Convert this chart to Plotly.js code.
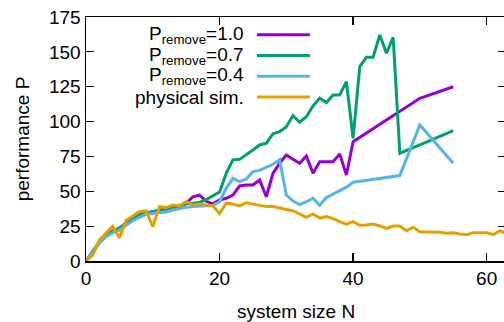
<!DOCTYPE html>
<html>
<head>
<meta charset="utf-8">
<script src="https://cdn.plot.ly/plotly-3.0.1.min.js"></script>
<style>
html,body{margin:0;padding:0;overflow:hidden;background:#fff;width:504px;height:322px;}
#chart{width:510px;height:322px;}
</style>
</head>
<body>
<div id="chart"></div>
<script>
// ---- data ----
const seriesNames = ["P<sub>remove</sub>=1.0", "P<sub>remove</sub>=0.7", "P<sub>remove</sub>=0.4", "physical sim."];
const seriesColors = ["#9400D3", "#009E73", "#56B4E9", "#E69F00"];

const nP10 = [0,1,2,3,4,5,6,7,8,9,10,11,12,13,14,15,16,17,18,19,20,21,22,23,24,25,26,27,28,29,30,31,32,33,34,35,36,37,38,39,40,47,50,55];
const pP10 = [0,7,13.5,18.5,21.5,23.5,27,30,33,34.5,35.4,36.2,37,38,39,41.4,46,47.3,42.8,41,43.8,45,47.3,53.8,54.5,54.5,58.1,46.1,62.9,70.1,76,73,70.1,75.3,62.9,71.2,71.2,71.2,76.8,61.7,85.6,107.4,116.7,125];

const nP07 = [0,1,2,3,4,5,6,7,8,9,10,11,12,13,14,15,16,17,18,19,20,21,22,23,24,25,26,27,28,29,30,31,32,33,34,35,36,37,38,39,40,41,42,43,44,45,46,47,50,55];
const pP07 = [0,7,13.5,18.5,21.5,23.5,27.5,30.5,33.5,34.5,35.4,36.2,37.1,38.3,39.5,41,41.4,42,44,46.5,49.5,62.9,72.5,72.9,76,79.6,83.2,84.4,91.3,92.8,96.3,104.3,99.5,103.5,111.2,116.7,113.6,119.1,119.1,128.6,88,139.4,146.1,146.1,162.1,149,160.4,77.3,83.3,93.5];

const nP04 = [0,1,2,3,4,5,6,7,8,9,10,11,12,13,14,15,16,17,18,19,20,21,22,23,24,25,26,27,28,29,30,31,32,33,34,35,36,37,38,39,40,47,50,55];
const pP04 = [0,6.7,12.7,17.5,20.3,22.2,25.8,28.9,31.3,33.5,34.2,34.7,35.2,36.6,37.8,38.5,39,39.5,39.8,40,42.5,52.1,59.3,56.9,58.8,64.1,65,67,69.4,72.7,47.3,43,40.5,42.5,45,40,45.5,48,50.5,53,56.5,61.3,97.6,70.1];

const nPhys = [0,1,2,3,4,5,6,7,8,9,10,11,12,13,14,15,16,17,18,19,20,21,22,23,24,25,26,27,28,29,30,31,32,33,34,35,36,37,38,39,40,41,42,43,44,45,46,47,48,49,50,51,52,53,54,55,56,57,58,59,60,61,62,63];
const pPhys = [0,4.3,15,19.8,25,16.7,29,32.3,35.4,36,24.6,39,38.3,40.2,39.7,42.6,40.2,40.9,40.2,39.5,34,41.5,40.9,39.5,41.8,40.9,40.2,39,39,38,37,35.9,33.7,31.3,33.7,30.8,31.8,30.4,28.2,26.5,28.2,25.6,25.8,26.5,25.1,23.4,25.1,25.1,21.7,24.2,21,21,20.8,20.6,19.9,20.3,19.4,18.9,20.3,20.1,20.3,18.9,21.7,19.5];

const xTicks = [0,20,40,60];
const yTicks = [0,25,50,75,100,125,150,175];

// ---- build ----
const xs = [nP10, nP07, nP04, nPhys];
const ys = [pP10, pP07, pP04, pPhys];
const FONT = '"Liberation Sans", Arial, Helvetica, sans-serif';

const traces = xs.map((x, i) => ({
  x: x, y: ys[i], type: 'scatter', mode: 'lines',
  name: seriesNames[i],
  line: {color: seriesColors[i], width: 3},
  showlegend: false, hoverinfo: 'skip'
}));

// legend (text right-aligned, sample line to the right) in paper coords
const legY = [0.927, 0.842, 0.757, 0.672];
const annotations = seriesNames.map((t, i) => ({
  xref: 'paper', yref: 'paper', x: 0.381, y: legY[i],
  xanchor: 'right', yanchor: 'middle', showarrow: false,
  text: t, font: {family: FONT, size: 19, color: '#000'}
}));
const shapes = seriesColors.map((c, i) => ({
  type: 'line', xref: 'paper', yref: 'paper',
  x0: 0.407, x1: 0.533, y0: legY[i], y1: legY[i],
  line: {color: c, width: 3}
}));

const axisCommon = {
  showline: true, linecolor: '#000', linewidth: 1.5, mirror: 'ticks',
  ticks: 'inside', ticklen: 8, tickwidth: 1.2, tickcolor: '#000',
  showgrid: false, zeroline: false,
  tickfont: {family: FONT, size: 19, color: '#000'}
};

const layout = {
  width: 510, height: 322,
  margin: {l: 86, r: 4, t: 17, b: 61},
  paper_bgcolor: '#fff', plot_bgcolor: '#fff',
  font: {family: FONT, size: 19, color: '#000'},
  xaxis: Object.assign({}, axisCommon, {
    range: [0, 62.9], tickmode: 'array', tickvals: xTicks,
    title: {text: 'system size N', font: {family: FONT, size: 19, color: '#000'}, standoff: 16}
  }),
  yaxis: Object.assign({}, axisCommon, {
    range: [0, 175], tickmode: 'array', tickvals: yTicks,
    title: {text: 'performance P', font: {family: FONT, size: 19, color: '#000'}, standoff: 14}
  }),
  annotations: annotations,
  shapes: shapes,
  showlegend: false
};

Plotly.newPlot('chart', traces, layout, {displayModeBar: false, staticPlot: true});
</script>
</body>
</html>
